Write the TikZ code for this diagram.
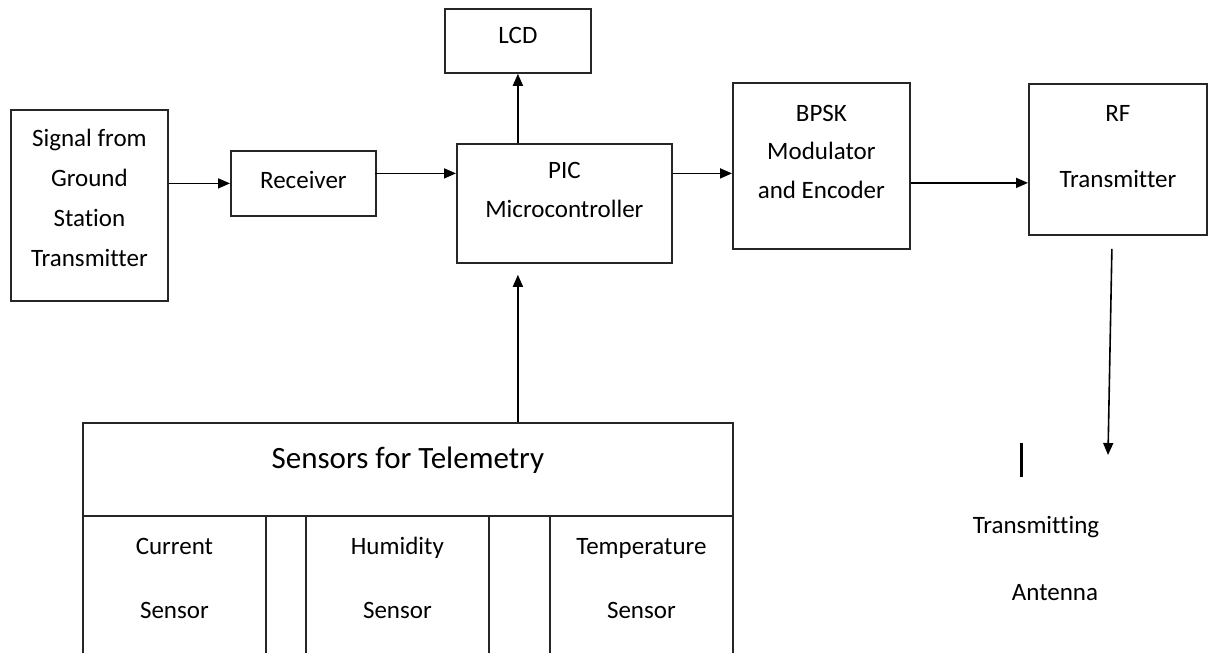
\documentclass[tikz,border=0pt]{standalone}
\usepackage{fontspec}
\setmainfont[Ligatures=NoCommon]{Carlito}
\usetikzlibrary{arrows.meta,calc}
\tikzset{
  blk/.style={draw=black!85, line width=1.8bp, inner sep=0pt, anchor=north west},
  txt/.style={font=\fontsize{25bp}{40bp}\selectfont, align=center, inner sep=0pt, text=black},
  arr/.style={draw=black, line width=1.6bp, -{Triangle[length=12bp,width=10bp]}},
}
\begin{document}
\begin{tikzpicture}[x=1bp,y=-1bp]
\useasboundingbox[fill=white] (0,0) rectangle (1216,653);

% processing chain
\node[blk, minimum width=157bp, minimum height=191bp,
      label={[txt, yshift=7bp]center:{Signal from\\Ground\\Station\\Transmitter}}] (sig) at (10,109) {};
\node[blk, minimum width=145bp, minimum height=65bp,
      label={[txt, yshift=3bp]center:Receiver}] (rec) at (230,150) {};
\node[blk, minimum width=146bp, minimum height=64bp,
      label={[txt, yshift=5bp]center:LCD}] (lcd) at (444,8) {};
\node[blk, minimum width=215bp, minimum height=119bp,
      label={[txt, font=\fontsize{25bp}{39bp}\selectfont, yshift=13bp]center:{PIC\\Microcontroller}}] (pic) at (456,143) {};
\node[blk, minimum width=177bp, minimum height=166bp,
      label={[txt, font=\fontsize{25bp}{38.5bp}\selectfont, yshift=14bp]center:{BPSK\\Modulator\\and Encoder}}] (bpsk) at (732,82) {};
\node[blk, minimum width=178bp, minimum height=151bp,
      label={[txt, font=\fontsize{25bp}{66bp}\selectfont, yshift=13bp]center:{RF\\Transmitter}}] (rf) at (1028,83) {};

% telemetry sensor block
\node[blk, minimum width=650bp, minimum height=93bp,
      label={[txt, font=\fontsize{31bp}{40bp}\selectfont, yshift=9bp]center:Sensors for Telemetry}] (sens) at (82,422) {};
\node[blk, minimum width=183bp, minimum height=141bp,
      label={[txt, font=\fontsize{25bp}{64bp}\selectfont, yshift=8bp]center:{Current\\Sensor}}] (cur) at (82,515) {};
\node[blk, minimum width=183bp, minimum height=141bp,
      label={[txt, font=\fontsize{25bp}{64bp}\selectfont, yshift=8bp]center:{Humidity\\Sensor}}] (hum) at (305,515) {};
\node[blk, minimum width=183bp, minimum height=141bp,
      label={[txt, font=\fontsize{25bp}{64bp}\selectfont, yshift=8bp]center:{Temperature\\Sensor}}] (tmp) at (549,515) {};

% antenna
\draw[line width=3bp] (1021,443) -- (1021,477);
\node[txt] (tx) at (1036,527) {Transmitting};
\node[txt] (ant) at (1055,593) {Antenna};
\coordinate (antin) at (1108,455);

% connections
\draw[arr] (sig.east |- rec.west) -- (rec.west);
\coordinate (r1) at ([yshift=10bp]rec.east);
\draw[arr] ([xshift=-2bp]r1) -- (r1 -| pic.west);
\coordinate (p1) at ([yshift=30bp]pic.east);
\draw[arr] (p1) -- (p1 -| bpsk.west);
\coordinate (b1) at ([yshift=-17bp]bpsk.east);
\draw[arr] (b1) -- (b1 -| rf.west);
\draw[arr] (lcd.south |- pic.north) -- (lcd.south);
\draw[arr] (sens.north -| lcd.south) -- ([yshift=-11bp]pic.south -| lcd.south);
\draw[arr] ([shift={(-6bp,-13bp)}]rf.south) -- (antin);
\end{tikzpicture}
\end{document}
